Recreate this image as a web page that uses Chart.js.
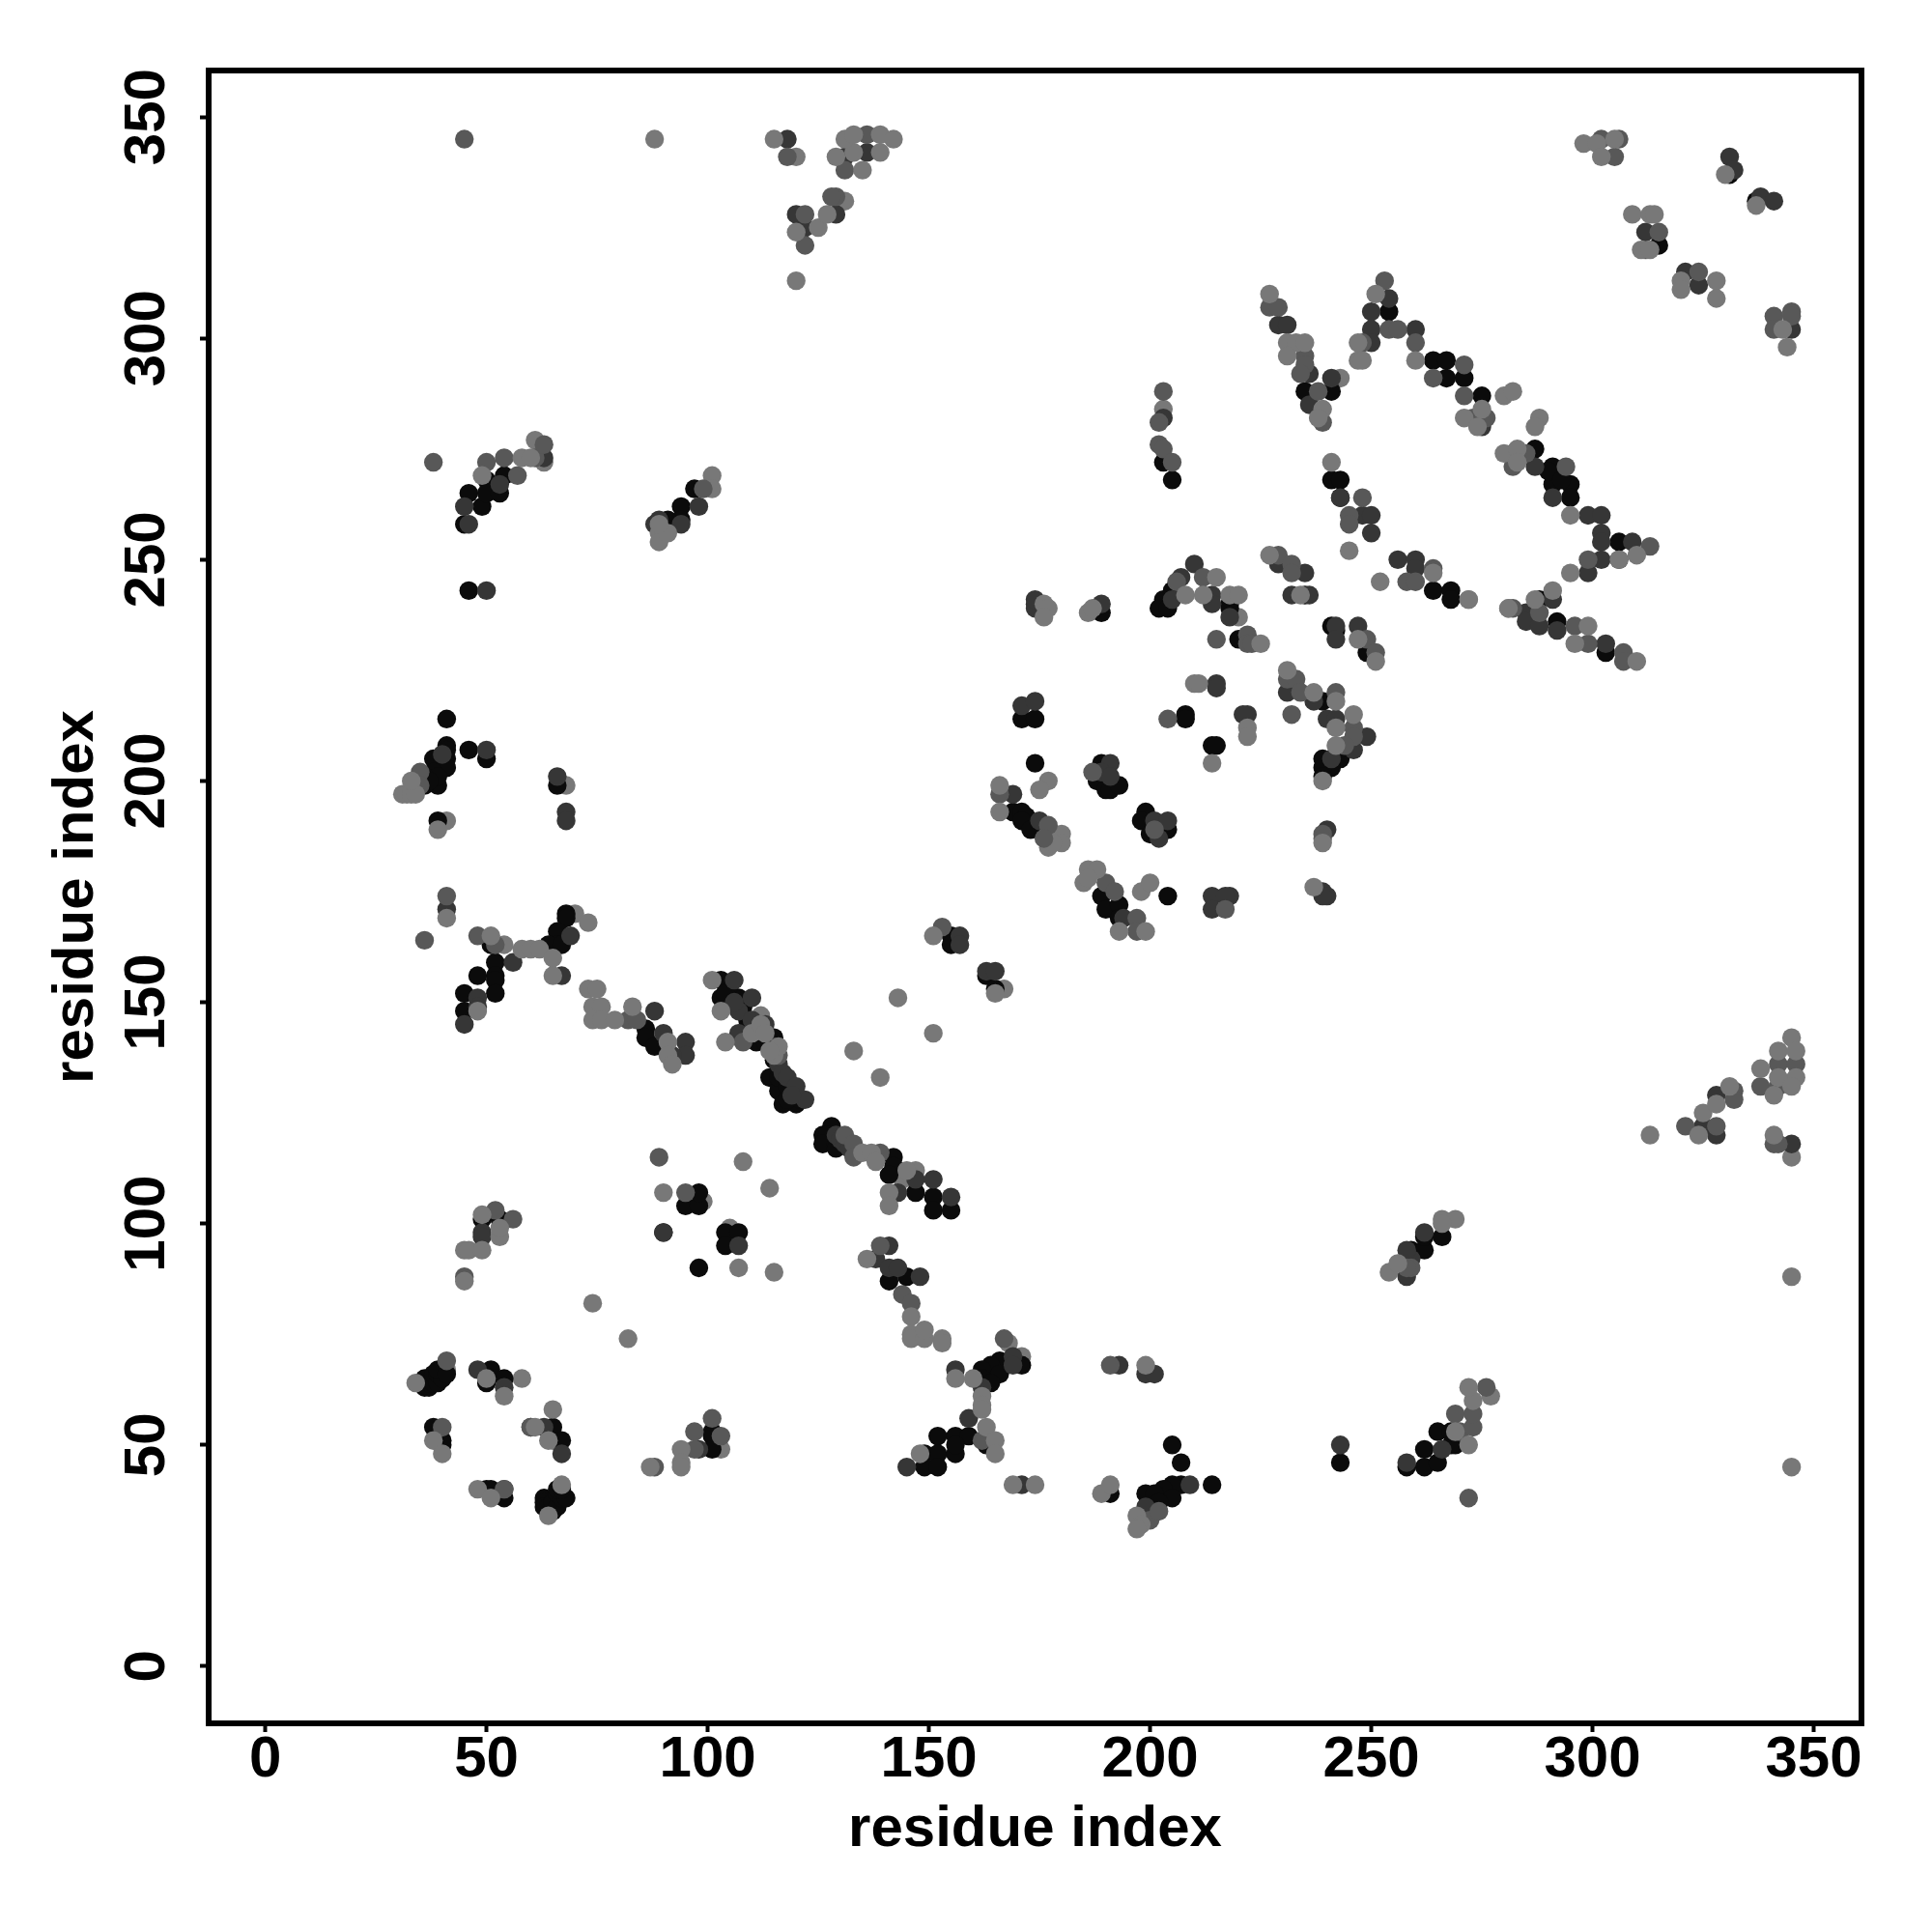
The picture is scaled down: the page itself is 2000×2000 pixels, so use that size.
<!DOCTYPE html>
<html>
<head>
<meta charset="utf-8">
<title>residue contacts</title>
<script src="https://cdn.jsdelivr.net/npm/chart.js@4"></script>
<style>
html, body { margin: 0; padding: 0; background: #fff; }
#wrap { width: 2000px; height: 2000px; }
</style>
</head>
<body>
<div id="wrap"><canvas id="contactChart" width="2000" height="2000"></canvas></div>
<script>
// Axis ticks
var tickValues = [0, 50, 100, 150, 200, 250, 300, 350];
var axisTitle = 'residue index';

// Contacts as [residue, residue], one list per grey level
var lightPts = [
  [34,64],[50,65],[54,61],[65,58],[61,54],[64,51],[38,51],[40,48],[48,40],[51,38],[64,34],[67,41],
  [94,49],[94,46],[94,45],[87,45],[45,94],[46,94],[49,94],[45,87],[49,102],[53,97],[53,99],
  [31,197],[32,197],[33,197],[34,197],[33,200],[39,189],[41,169],[51,165],[58,162],[60,162],[62,162],
  [65,160],[65,156],[48,148],[73,153],[75,153],[74,149],[76,149],[74,146],[76,146],[79,146],[83,149],
  [91,141],[91,138],[92,136],[101,155],[103,148],[104,141],[110,143],[115,138],[112,145],[113,143],[116,140],[114,139],
  [135,116],[137,116],[138,114],[141,107],[141,104],[136,92],[146,79],[146,75],[146,74],[149,74],[149,76],[153,74],[153,73],
  [156,65],[160,65],[162,61],[162,59],[162,58],[163,54],[165,51],[165,48],[148,48],[169,41],[174,41],[189,39],[197,34],[198,32],[197,31],
  [199,68],[191,41],[166,199],[166,193],[177,200],[175,198],[186,180],[188,180],[185,177],[186,178],[193,166],[199,166],[198,175],[200,177],
  [239,186],[237,176],[214,204],[222,212],[222,210],[210,222],[211,222],[231,225],[237,220],[242,218],[246,215],[242,212],[242,208],[239,200],
  [176,240],[177,239],[176,237],[186,238],[187,239],[89,256],[89,254],[91,256],[89,258],[49,269],[58,273],[60,273],
  [227,310],[231,299],[233,299],[235,299],[231,296],[239,284],[238,282],[251,310],[247,299],[247,295],[248,295],[260,295],
  [271,282],[275,284],[274,280],[280,287],[282,288],[288,282],[287,280],[280,274],[283,275],[295,260],[310,251],[306,250],[295,247],
  [245,252],[252,245],[264,247],[272,241],[281,239],[287,241],[291,243],[299,235],[296,231],[310,227],[227,251],[225,231],[215,246],[218,242],[220,242],
  [212,242],[208,242],[234,242],[251,227],[247,232],[241,272],[283,272],
  [115,345],[120,324],[125,325],[120,313],[129,341],[133,342],[139,342],[131,345],[133,346],[139,346],[142,345],[135,338],[127,328],
  [88,345],[298,344],[301,344],[302,341],[305,345],[309,328],[313,328],[314,328],[311,320],[313,320],[320,313],[320,311],[328,313],[328,309],[344,298],[343,302],
  [330,337],[337,330],[313,120],[324,120],[325,125],[331,131],[328,127],[338,135],[342,139],[346,139],[346,133],[342,133],[345,131],[341,129],[341,120],
  [254,89],[256,91],[266,100],[269,53],[272,50],[273,60],[272,63],
  [74,82],[82,74],[90,107],[107,90],[108,114],[114,108],[115,89],[143,151],[151,143],[133,139],[139,133],[151,165],[165,152],[145,112]
];
var midPts = [
  [41,69],[54,40],[40,54],[60,54],[97,53],[101,56],[97,49],[88,45],[103,52],[45,88],[56,101],[52,103],
  [35,202],[35,199],[41,174],[48,165],[52,163],[36,164],[82,146],[84,146],[116,138],[108,141],[89,115],[95,107],
  [131,120],[133,118],[133,115],[139,116],[139,95],[144,84],[146,82],[162,51],[167,74],[191,68],[200,33],[202,35],[197,169],[197,166],
  [166,197],[177,190],[176,187],[187,202],[201,189],[190,177],[192,175],[217,171],[239,188],[239,187],
  [204,214],[215,232],[231,223],[233,223],[234,220],[242,220],[232,215],[246,212],[246,210],[244,208],[249,232],[251,229],
  [38,272],[50,272],[54,273],[57,269],[61,273],[63,276],[99,266],
  [227,307],[229,307],[235,296],[235,294],[234,292],[238,288],[239,281],[253,313],[254,302],[256,302],[248,299],[260,299],
  [271,294],[271,287],[273,282],[276,282],[264,291],[282,271],[294,271],[313,253],[299,250],[285,274],
  [245,260],[245,258],[248,264],[264,248],[258,245],[260,245],[229,251],[232,249],[232,247],[206,245],[212,246],[222,233],[222,231],[223,231],
  [282,239],[288,238],[296,235],[299,231],[307,229],[307,227],
  [45,345],[118,341],[122,328],[122,321],[129,332],[128,332],[131,338],[136,346],
  [302,345],[305,341],[306,345],[315,324],[312,320],[324,315],[341,305],[345,306],[345,305],[341,302],
  [203,288],[202,281],[202,276],[203,275],[205,272],[153,167],
  [321,122],[328,122],[342,136],[346,136],[342,131],[338,131],[332,130],[332,128],[341,118],[342,118],
  [259,90],[258,90],[270,53],[269,57],[273,54],[273,57],[276,63],[272,38]
];
var darkPts = [
  [48,67],[54,63],[60,54],[63,54],[67,48],[54,40],[98,49],[49,98],[49,97],[90,98],[107,95],
  [40,206],[66,201],[68,193],[68,191],[50,207],[41,171],[69,165],[56,159],[67,156],[48,151],[48,149],[45,145],
  [88,148],[90,143],[95,141],[95,138],[92,138],[106,155],[110,151],[107,148],[107,143],[122,128],[155,106],
  [106,150],[110,146],[113,145],[115,140],[116,136],[117,134],[118,133],[120,131],[119,129],[129,120],[130,119],[131,118],[132,117],[147,110],
  [141,95],[138,92],[141,90],[143,90],[148,88],[143,107],[151,110],[156,67],[159,56],[169,70],[169,68],[162,63],[145,45],
  [171,41],[193,68],[199,66],[201,66],[243,50],[199,36],[209,41],
  [157,165],[157,163],[163,157],[165,157],[171,217],[174,218],[169,197],[175,191],[191,204],[189,202],[191,201],
  [201,191],[204,191],[202,187],[194,169],[214,174],[218,174],[217,174],[214,171],[240,189],[239,175],[240,174],[239,174],
  [222,215],[221,215],[215,222],[215,221],[231,220],[237,218],[240,214],[242,214],[249,210],[246,207],[241,205],[242,235],[242,232],[247,235],
  [45,262],[46,258],[53,267],[50,243],[98,262],[94,258],[88,258],[89,259],[63,273],[174,240],[174,239],[174,241],[189,240],
  [229,303],[231,303],[236,292],[241,291],[236,285],[254,309],[250,306],[250,302],[260,302],[250,299],[275,280],
  [282,274],[287,271],[291,264],[299,260],[302,260],[302,256],[302,254],[309,254],[306,250],[302,250],[299,247],
  [243,264],[248,260],[250,260],[250,256],[256,250],[260,250],[260,248],[229,249],[235,247],[232,242],[236,242],
  [207,246],[210,249],[214,242],[214,240],[218,237],[205,241],[285,238],[285,236],[288,235],[291,241],[292,234],[303,231],
  [118,345],[120,328],[122,325],[129,328],[131,341],[136,342],
  [331,341],[332,338],[338,332],[341,331],[312,324],[321,315],[324,312],[345,302],[203,282],
  [328,129],[325,122],[328,120],[345,118],[258,88],[259,92],[258,94],[262,98],[258,46],[266,49]
];
var blackPts = [
  [36,63],[36,64],[36,65],[37,63],[37,64],[38,64],[38,66],[39,64],[39,66],[40,65],[39,67],[41,66],
  [51,67],[50,64],[54,65],[65,54],[67,51],[38,54],[40,51],[40,50],[50,40],[51,40],[54,38],
  [63,38],[63,37],[63,36],[64,36],[65,35],[65,37],[66,36],[66,39],[67,38],[68,38],[66,40],[67,40],
  [101,53],[101,52],[101,49],[49,101],[53,101],[90,98],[98,90],[104,98],[107,98],[104,95],[95,104],[98,104],[98,107],
  [41,214],[41,208],[41,207],[41,205],[41,203],[46,207],[50,205],[38,205],[38,202],[39,199],[39,201],[36,201],[36,199],[37,200],
  [66,199],[39,191],[68,170],[68,169],[67,165],[66,166],[66,163],[64,163],[67,163],[51,163],
  [52,159],[48,156],[52,156],[52,155],[45,152],[52,152],[45,148],
  [86,144],[86,142],[88,140],[103,155],[103,151],[107,151],[111,141],[115,142],[114,133],[116,130],[117,127],[120,127],
  [105,154],[104,152],[108,149],[109,146],[112,143],[113,141],[115,137],[116,133],[118,131],[118,128],[121,128],
  [128,122],[126,120],[127,120],[126,118],[129,118],[129,117],[142,115],[142,113],[141,111],[147,107],[151,106],[151,103],[155,103],
  [141,87],[145,88],[171,68],[166,69],[164,68],[162,67],[166,66],[162,65],[164,64],[163,50],
  [152,52],[156,52],[159,52],[149,48],[152,48],[156,48],[149,45],[152,45],[156,50],
  [214,41],[191,39],[205,50],[207,46],[243,46],[207,41],[205,41],[203,40],[199,39],[205,38],[201,39],[202,37],
  [155,165],[155,163],[163,156],[165,153],[171,214],[174,214],[174,204],[169,193],[171,193],[172,192],[171,191],[173,189],
  [189,204],[188,200],[190,198],[191,198],[193,199],[199,193],[198,191],[204,189],[200,188],[204,174],
  [189,174],[190,171],[193,172],[193,169],[214,208],[215,208],[208,215],[208,214],[239,218],[243,205],[239,205],[241,203],[239,203],[239,201],
  [241,235],[242,234],[249,229],[46,265],[45,258],[49,262],[50,268],[50,265],[53,265],[54,269],[46,243],[189,238],
  [97,266],[94,262],[94,259],[91,259],[235,288],[241,288],[254,306],[264,295],[267,295],[267,291],[271,291],[275,287],
  [287,275],[291,271],[291,267],[295,267],[295,264],[306,254],[241,268],[243,268],[243,264],[264,243],[268,243],[268,241],[290,270],[293,268],
  [288,241],[292,236],[303,229],[205,243],[203,241],[202,239],[204,239],[218,240],[235,242],[218,239],[220,232],[205,268],[203,272],
  [315,321],[331,337],[337,331],[259,94],[262,94],[262,97],[266,97],
  [258,45],[262,49],[262,45],[265,53],[265,46],[269,50],[268,53],[268,50]
];
// Grey dots that sit over the darker ones
var lightTopPts = [
  [41,67],[41,191],[68,199],[70,170],[73,168],[54,163],[105,99],[99,105],[65,51],[58,65],[103,49],[112,147],[143,112],[144,110],[147,112],
  [168,73],[171,70],[178,188],[180,188],[180,186],[177,185],[178,186],[192,199],[203,284],[345,142],[266,101],[269,101],[277,61],[167,153],
  [101,269],[101,266],[61,277],[63,272],[120,341],[131,331],[345,115],[345,88],[345,45],[243,291],[220,237],[281,239],[272,241]
];

var shadeLight = '#787878';
var shadeMid = '#585858';
var shadeDark = '#363636';
var shadeBlack = '#0b0b0b';

function makeSet(pts, colour) {
    return {
        data: pts.map(function(p) { return { x: p[0], y: p[1] }; }),
        backgroundColor: colour,
        borderWidth: 0,
        pointRadius: 9.7,
        pointHoverRadius: 9.7
    };
}

// R style box round the plot
var boxPlugin = {
    id: 'boxPlugin',
    afterDatasetsDraw: function(chart) {
        var a = chart.chartArea;
        var c = chart.ctx;
        c.save();
        c.strokeStyle = '#000';
        c.lineWidth = 6;
        c.strokeRect(a.left, a.top, a.right - a.left, a.bottom - a.top);
        c.restore();
    }
};

function setTicks(scale) {
    scale.ticks = tickValues.map(function(v) { return { value: v }; });
}

var fontFamily = '"Liberation Sans", Arial, sans-serif';

new Chart(document.getElementById('contactChart'), {
    type: 'scatter',
    data: {
        datasets: [
            makeSet(lightPts, shadeLight),
            makeSet(midPts, shadeMid),
            makeSet(darkPts, shadeDark),
            makeSet(blackPts, shadeBlack),
            makeSet(lightTopPts, shadeLight)
        ]
    },
    plugins: [boxPlugin],
    options: {
        responsive: false,
        animation: false,
        layout: { padding: { top: 73, right: 73, bottom: 0, left: 0 } },
        plugins: { legend: { display: false }, tooltip: { enabled: false } },
        scales: {
            x: {
                type: 'linear',
                min: -12.8,
                max: 360.8,
                afterBuildTicks: setTicks,
                afterFit: function(scale) { scale.height = 216; },
                border: { display: false },
                grid: { drawOnChartArea: false, drawTicks: true, tickLength: 9, tickWidth: 4, tickColor: '#000' },
                ticks: {
                    color: '#000',
                    padding: -7,
                    maxRotation: 0,
                    autoSkip: false,
                    font: { family: fontFamily, weight: 'bold', size: 60 }
                },
                title: {
                    display: true,
                    text: axisTitle,
                    color: '#000',
                    padding: { top: 0, bottom: 70 },
                    font: { family: fontFamily, weight: 'bold', size: 60, lineHeight: 1.2 }
                }
            },
            y: {
                type: 'linear',
                min: -12.9,
                max: 360.5,
                afterBuildTicks: setTicks,
                afterFit: function(scale) { scale.width = 216; },
                border: { display: false },
                grid: { drawOnChartArea: false, drawTicks: true, tickLength: 9, tickWidth: 4, tickColor: '#000' },
                ticks: {
                    color: '#000',
                    padding: 3,
                    minRotation: 90,
                    maxRotation: 90,
                    crossAlign: 'center',
                    autoSkip: false,
                    font: { family: fontFamily, weight: 'bold', size: 60 }
                },
                title: {
                    display: true,
                    text: axisTitle,
                    color: '#000',
                    padding: { top: 43, bottom: 0 },
                    font: { family: fontFamily, weight: 'bold', size: 60, lineHeight: 1.2 }
                }
            }
        }
    }
});
</script>
</body>
</html>
